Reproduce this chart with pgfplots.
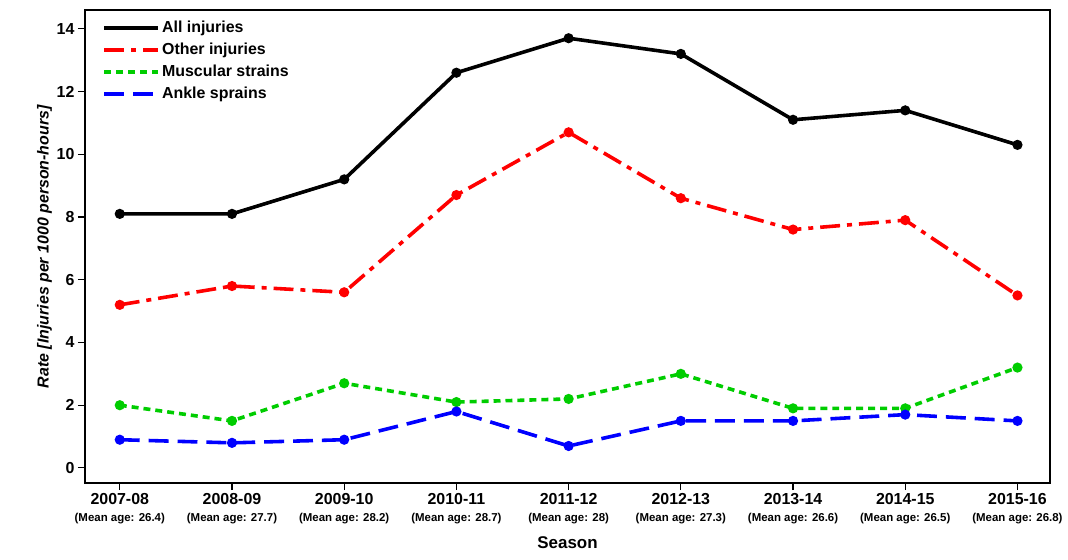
\documentclass[border=0pt]{standalone}
\usepackage{pgfplots}
\pgfplotsset{compat=1.18}
\usepackage{fontspec}
\setmainfont{Liberation Sans}
\begin{document}
\begin{tikzpicture}
\useasboundingbox (-85bp,-77bp) rectangle (983bp,483bp);
\begin{axis}[
  at={(0,0)}, anchor=south west,
  scale only axis, width=965bp, height=473bp,
  xmin=-0.31, xmax=8.29, ymin=-0.48, ymax=14.6,
  xtick={0,...,8},
  xticklabels={
   {\textbf{2007-08}\\{\fontsize{11.5}{12}\selectfont\bfseries (Mean age: 26.4)}},
   {\textbf{2008-09}\\{\fontsize{11.5}{12}\selectfont\bfseries (Mean age: 27.7)}},
   {\textbf{2009-10}\\{\fontsize{11.5}{12}\selectfont\bfseries (Mean age: 28.2)}},
   {\textbf{2010-11}\\{\fontsize{11.5}{12}\selectfont\bfseries (Mean age: 28.7)}},
   {\textbf{2011-12}\\{\fontsize{11.5}{12}\selectfont\bfseries (Mean age: 28)}},
   {\textbf{2012-13}\\{\fontsize{11.5}{12}\selectfont\bfseries (Mean age: 27.3)}},
   {\textbf{2013-14}\\{\fontsize{11.5}{12}\selectfont\bfseries (Mean age: 26.6)}},
   {\textbf{2014-15}\\{\fontsize{11.5}{12}\selectfont\bfseries (Mean age: 26.5)}},
   {\textbf{2015-16}\\{\fontsize{11.5}{12}\selectfont\bfseries (Mean age: 26.8)}}},
  xticklabel style={align=center, font=\fontsize{16}{17}\selectfont},
  ytick={0,2,...,14},
  yticklabel style={font=\fontsize{16}{18}\selectfont\bfseries},
  /pgf/number format/assume math mode=true,
  tick align=outside, major tick length=7bp,
  axis line style={line width=1.3pt},
  every tick/.style={black, line width=1.1pt},
  xtick pos=bottom, ytick pos=left,
  xlabel={\textbf{Season}}, xlabel style={font=\fontsize{17}{18}\selectfont, yshift=-6bp},
  ylabel={\textbf{\textit{Rate [Injuries per 1000 person-hours]}}},
  ylabel style={font=\fontsize{16}{17}\selectfont, yshift=-2bp},
  legend style={at={(0.015,0.985)}, anchor=north west, draw=none, fill=none,
    font=\fontsize{16}{18}\selectfont\bfseries, row sep=5pt},
  legend cell align=left,
  legend image code/.code={\draw[#1, mark=none] (0cm,0cm) -- (1.9cm,0cm);},
  every axis plot/.append style={line width=3.6pt, mark=*, mark size=3.2pt, mark options={solid}},
]
\addplot[black] coordinates {(0,8.1)(1,8.1)(2,9.2)(3,12.6)(4,13.7)(5,13.2)(6,11.1)(7,11.4)(8,10.3)};
\addlegendentry{All injuries}
\addplot[red, dash pattern=on 20pt off 7pt on 5pt off 7pt] coordinates {(0,5.2)(1,5.8)(2,5.6)(3,8.7)(4,10.7)(5,8.6)(6,7.6)(7,7.9)(8,5.5)};
\addlegendentry{Other injuries}
\addplot[color={rgb,255:red,0;green,205;blue,0}, dash pattern=on 7pt off 5pt] coordinates {(0,2.0)(1,1.5)(2,2.7)(3,2.1)(4,2.2)(5,3.0)(6,1.9)(7,1.9)(8,3.2)};
\addlegendentry{Muscular strains}
\addplot[blue, dash pattern=on 20pt off 9pt] coordinates {(0,0.9)(1,0.8)(2,0.9)(3,1.8)(4,0.7)(5,1.5)(6,1.5)(7,1.7)(8,1.5)};
\addlegendentry{Ankle sprains}
\end{axis}
\end{tikzpicture}
\end{document}
